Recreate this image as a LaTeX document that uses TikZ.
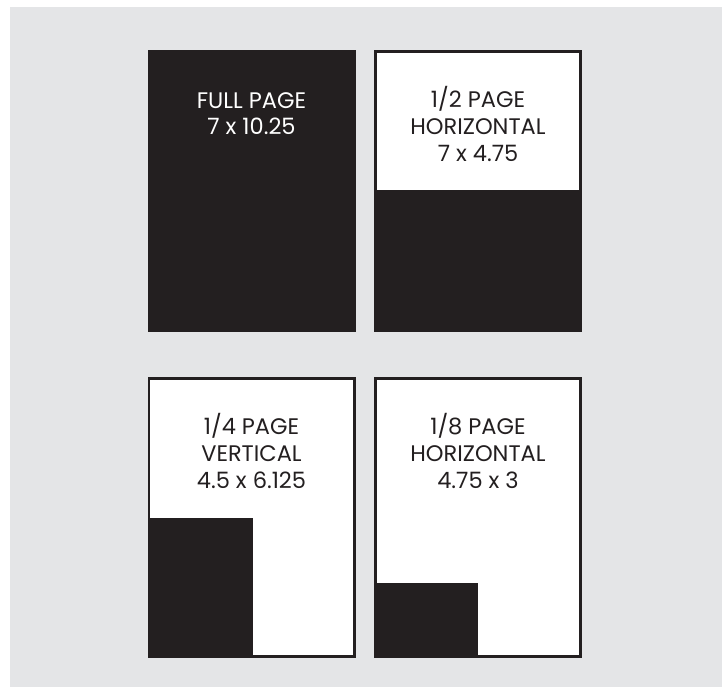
\documentclass[tikz,border=0pt]{standalone}
\usepackage{fontspec}
\setmainfont{Poppins}
\definecolor{bg}{HTML}{E4E5E7}
\definecolor{ink}{HTML}{231F20}
\begin{document}
\begin{tikzpicture}[x=1pt,y=-1pt,
  page/.style={draw=ink,line width=2.5pt,fill=white},
  solid/.style={fill=ink},
  lbl/.style={font=\fontsize{22.5}{27}\selectfont,inner sep=0pt,anchor=base},
]
\useasboundingbox (0,0) rectangle (722,687);
\fill[bg] (10,7) rectangle (722,687);
% full page
\path[solid] (147.5,50) rectangle (355.5,331.5);
\node[lbl,text=white] (t1a) at (251.5,108.3) {FULL PAGE};
\node[lbl,text=white] (t1b) at (251.5,134.3) {7 x 10.25};
% half page
\draw[page] (375.5,51.5) rectangle (580.5,330.5);
\path[solid] (374.5,190) rectangle (581.5,331.5);
\node[lbl,text=ink] (t2a) at (478,107.7) {1/2 PAGE};
\node[lbl,text=ink] (t2b) at (478,134.3) {HORIZONTAL};
\node[lbl,text=ink] (t2c) at (478,161.7) {7 x 4.75};
% quarter page
\draw[page] (149,378.5) rectangle (354.5,656.5);
\path[solid] (147.8,517.7) rectangle (253.3,657.7);
\node[lbl,text=ink] (t3a) at (251.5,434) {1/4 PAGE};
\node[lbl,text=ink] (t3b) at (251.5,461) {VERTICAL};
\node[lbl,text=ink] (t3c) at (251.5,488.3) {4.5 x 6.125};
% eighth page
\draw[page] (375.5,378.5) rectangle (580.5,656.5);
\path[solid] (374.3,583) rectangle (478,657.7);
\node[lbl,text=ink] (t4a) at (478,434) {1/8 PAGE};
\node[lbl,text=ink] (t4b) at (478,461) {HORIZONTAL};
\node[lbl,text=ink] (t4c) at (478,488.3) {4.75 x 3};
\end{tikzpicture}
\end{document}
